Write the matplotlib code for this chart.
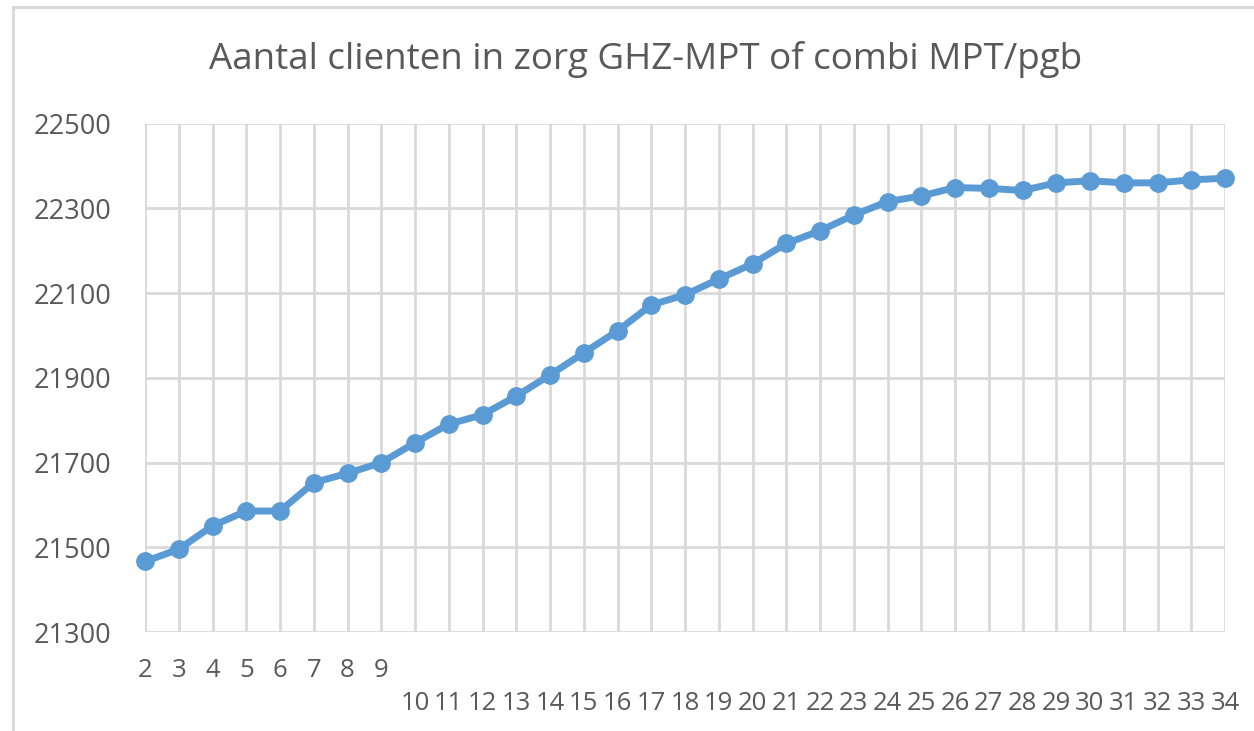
import matplotlib
matplotlib.use("Agg")
import matplotlib.pyplot as plt
from matplotlib.lines import Line2D

# ---- data ----
categories = list(range(2, 35))
values = [21467, 21496, 21551, 21586, 21586, 21653, 21675, 21700, 21747,
          21791, 21813, 21857, 21907, 21959, 22011, 22072, 22096, 22133,
          22169, 22217, 22247, 22284, 22316, 22329, 22349, 22347, 22342,
          22360, 22365, 22360, 22360, 22367, 22371]
y_ticks = [21300, 21500, 21700, 21900, 22100, 22300, 22500]
title = "Aantal clienten in zorg GHZ-MPT of combi MPT/pgb"

W, H = 1254, 731
fig = plt.figure(figsize=(W / 100, H / 100), dpi=100)
fig.patch.set_facecolor("white")

FONT = "Open Sans"
TXT = "#595959"
GRID = "#d9d9d9"
BLUE = "#5B9BD5"

# outer chart border (top and left visible)
fig.add_artist(Line2D([13 / W, 13 / W], [0, 1 - 7 / H], transform=fig.transFigure,
                      color=GRID, lw=2.2))
fig.add_artist(Line2D([13 / W, 1], [1 - 7 / H, 1 - 7 / H], transform=fig.transFigure,
                      color=GRID, lw=2.2))

left, right = 145 / W, 1225 / W
top, bottom = 1 - 123.5 / H, 1 - 632.3 / H
ax = fig.add_axes([left, bottom, right - left, top - bottom])

ax.set_xlim(categories[0], categories[-1])
ax.set_ylim(y_ticks[0], y_ticks[-1])
ax.set_yticks(y_ticks)
ax.set_xticks(categories)
ax.set_xticklabels([])
for s in ax.spines.values():
    s.set_visible(False)
ax.grid(True, color=GRID, lw=2.0)
ax.set_axisbelow(True)
ax.tick_params(axis="both", length=0)
ax.tick_params(axis="y", pad=24, labelcolor=TXT, labelsize=19.5)
for lab in ax.get_yticklabels():
    lab.set_fontfamily(FONT)

ax.plot(categories, values, color=BLUE, lw=5, marker="o", markersize=12.5,
        markerfacecolor=BLUE, markeredgecolor=BLUE, clip_on=False, zorder=3)

# x labels: single digits on first row, two-digit labels on second row
for c in categories:
    off = -38 if c < 10 else -71
    ax.annotate(str(c), xy=(c, 0), xycoords=("data", "axes fraction"),
                xytext=(0, off * 0.72), textcoords="offset points",
                ha="center", va="center", fontsize=18.5, color=TXT,
                fontfamily=FONT)

fig.text((208 + 1083) / 2 / W, 1 - 60 / H, title, ha="center", va="center",
         fontsize=26.5, color=TXT, fontfamily=FONT)

fig.savefig("out.png", dpi=100, facecolor="white")
